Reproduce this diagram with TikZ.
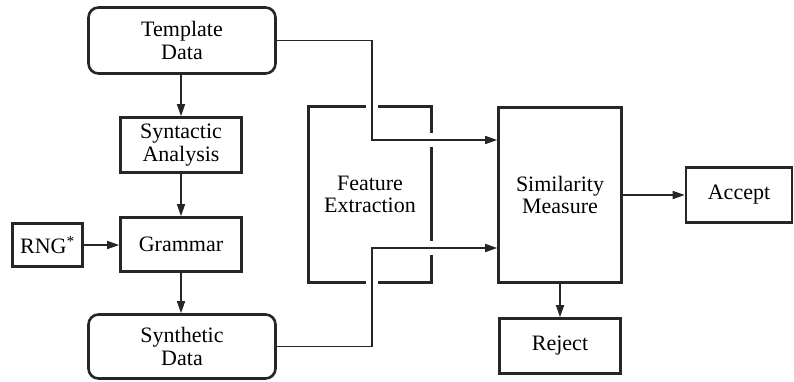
\documentclass[tikz,border=0pt]{standalone}
\usepackage{fontspec}
\setmainfont{Liberation Serif}
\usetikzlibrary{arrows.meta}
\begin{document}
\begin{tikzpicture}[x=1pt,y=-1pt,
  box/.style={draw=black!85,line width=2.6pt,inner sep=0pt,align=center,
    font=\fontsize{22}{22.5}\selectfont},
  rbox/.style={box,rounded corners=10pt},
  arr/.style={draw=black!85,line width=1.5pt,-{Triangle[length=12pt,width=8pt]}},
  con/.style={draw=black!85,line width=1.5pt}]
\useasboundingbox (0,0) rectangle (794,381);
\node[rbox,minimum width=187pt,minimum height=66pt] (tpl) at (182,40.5) {Template\\Data};
\node[box,minimum width=121pt,minimum height=55pt] (syn) at (181,145) {Syntactic\\Analysis};
\node[box,minimum width=121pt,minimum height=54pt] (gram) at (181,244.5) {Grammar};
\node[box,minimum width=70pt,minimum height=43pt] (rng) at (47.5,245) {RNG\textsuperscript{*}};
\node[rbox,minimum width=187pt,minimum height=64pt] (synd) at (182,346.5) {Synthetic\\Data};
\node[box,minimum width=123pt,minimum height=176pt] (fe) at (370,194.5) {Feature\\Extraction};
\node[box,minimum width=123pt,minimum height=175pt] (sim) at (560,195) {Similarity\\Measure};
\node[box,minimum width=106pt,minimum height=55pt] (acc) at (739,195) {Accept};
\node[box,minimum width=121pt,minimum height=55pt] (rej) at (560,346) {Reject};
% gaps in the Feature Extraction frame
\coordinate (c1) at (372,140);
\coordinate (c2) at (372,248);
\fill[white] (c1 |- fe.north) +(-6,-3) rectangle +(6,3);
\fill[white] (c1 |- fe.south) +(-6,-3) rectangle +(6,3);
\fill[white] (c1 -| fe.east) +(-3,-7) rectangle +(3,7);
\fill[white] (c2 -| fe.east) +(-3,-7) rectangle +(3,7);
% connectors
\draw[arr] (syn.north |- tpl.south) -- (syn.north);
\draw[arr] (syn.south) -- (gram.north);
\draw[arr] (gram.south) -- (gram.south |- synd.north);
\draw[arr] (rng.east) -- (rng.east -| gram.west);
\draw[arr] (tpl.east) -| (c1) -- (c1 -| sim.west);
\draw[arr] (synd.east) -| (c2) -- (c2 -| sim.west);
\draw[arr] (sim.east) -- (sim.east -| acc.west);
\draw[arr] (sim.south) -- (rej.north);
\end{tikzpicture}
\end{document}
